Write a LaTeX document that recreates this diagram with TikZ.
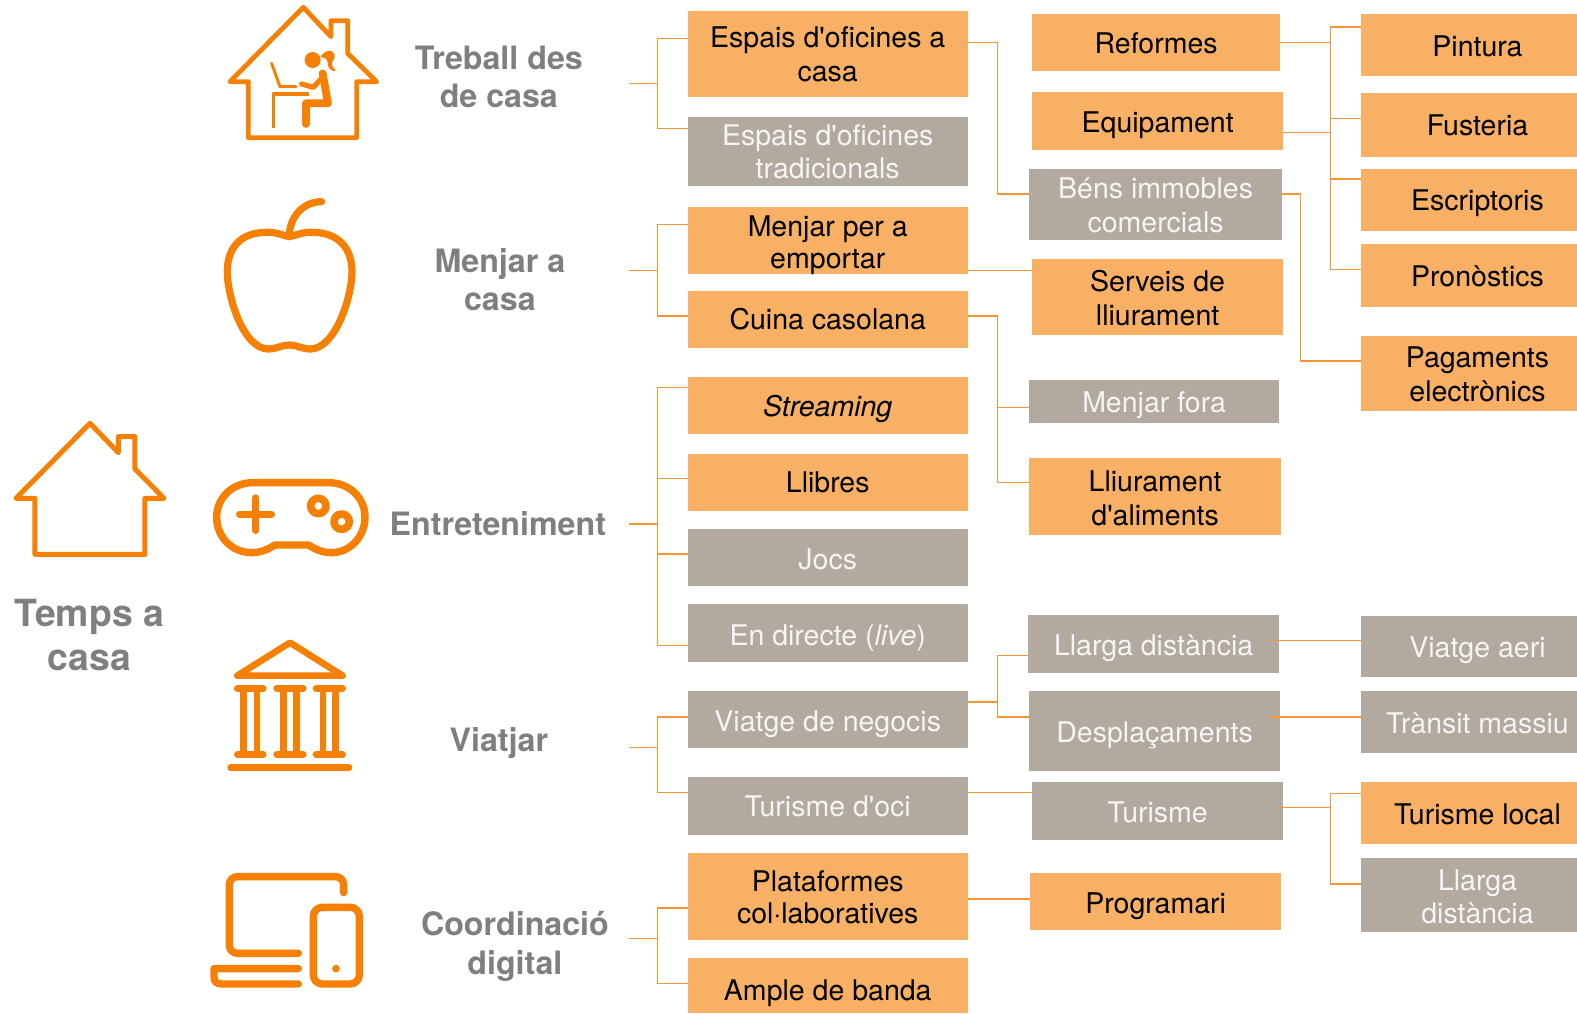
\documentclass[tikz,border=0pt]{standalone}
\usepackage{fontspec}
\setmainfont[Ligatures=TeXOff]{TeX Gyre Heros}
\definecolor{boxor}{HTML}{F7B064}
\definecolor{boxgr}{HTML}{B2A99F}
\definecolor{ico}{HTML}{F58003}
\definecolor{lnk}{HTML}{F79433}
\definecolor{lab}{HTML}{7F7F7F}
\newcommand{\bxx}[8][0.5pt]{%
  \pgfmathsetmacro{\bw}{(#6-#4)*0.5029}%
  \pgfmathsetmacro{\bh}{(#7-#5)*0.5029}%
  \pgfmathsetmacro{\bcx}{(#4+#6)/2}%
  \pgfmathsetmacro{\bcy}{(#5+#7)/2}%
  \node[#3,minimum width=\bw pt,minimum height=\bh pt] (#2) at (\bcx,\bcy) {\raisebox{\dimexpr-#1-1.65pt\relax}[\height][\depth]{\begin{tabular}{@{}c@{}}#8\end{tabular}}};}
\newcommand{\sft}{\hspace*{8.6pt}}
\tikzset{
  boxbase/.style={rectangle,inner sep=0pt,outer sep=0pt,font=\fontsize{14.25}{17}\selectfont},
  obox/.style={boxbase,fill=boxor,text=black},
  gbox/.style={boxbase,fill=boxgr,text=white!96!black},
  link/.style={draw=lnk,line width=0.7pt},
  head/.style={text=lab,align=center,inner sep=0pt,font=\bfseries\fontsize{16.1}{19.2}\selectfont},
  icon/.style={draw=ico,line join=round,line cap=round},
}
\begin{document}
\begin{tikzpicture}[x=0.5029pt,y=-0.5029pt]
\useasboundingbox (0,0) rectangle (1568,1007.3);
% icons, in the pixel grid of 3x crops
\begin{scope}[shift={(100pt,0pt)},x=0.16667pt,y=-0.16667pt]
  \draw[icon,line width=2.4pt] (90,245) -- (310,22) -- (393,110) -- (393,62) -- (443,62) -- (443,160) -- (530,245) -- (470,245) -- (470,413) -- (145,413) -- (145,245) -- cycle;
  \fill[ico] (338,180) circle (24);
  \fill[ico] (362,170) .. controls (375,150) and (395,145) .. (403,162) .. controls (408,178) and (392,185) .. (396,195) .. controls (398,205) and (405,208) .. (410,212) .. controls (395,216) and (383,205) .. (383,190) .. controls (383,175) and (375,175) .. (362,170) -- cycle;
  \draw[icon,line width=3.9pt] (368,220) -- (384,310) -- (318,310) -- (318,372);
  \draw[icon,line width=2.6pt] (305,252) -- (340,262) -- (365,235);
  \draw[icon,line width=1.5pt] (215,190) -- (240,260) -- (288,260);
  \draw[icon,line width=1.7pt,line cap=butt] (328,282) -- (220,282) -- (220,384);
\end{scope}
\begin{scope}[shift={(100pt,-90pt)},x=0.16667pt,y=-0.16667pt]
  \draw[icon,line width=3.6pt] (268,170) .. controls (245,165) and (225,155) .. (200,157)
    .. controls (120,157) and (82,205) .. (82,275)
    .. controls (82,350) and (130,507) .. (205,507)
    .. controls (230,507) and (245,495) .. (268,495)
    .. controls (291,495) and (306,507) .. (331,507)
    .. controls (406,507) and (456,350) .. (456,275)
    .. controls (456,205) and (416,157) .. (336,157)
    .. controls (311,155) and (291,165) .. (268,170) -- cycle;
  \draw[icon,line width=3.6pt] (268,170) .. controls (268,110) and (310,65) .. (365,65);
\end{scope}
\begin{scope}[shift={(0pt,-200pt)},x=0.16667pt,y=-0.16667pt]
  \draw[icon,line width=2.5pt] (48,295) -- (270,70) -- (355,158) -- (355,110) -- (405,110) -- (405,207) -- (492,295) -- (435,295) -- (435,463) -- (105,463) -- (105,295) -- cycle;
  \draw[icon,line width=3.7pt] (760,248) -- (985,248) .. controls (1050,248) and (1095,295) .. (1095,352) .. controls (1095,410) and (1050,458) .. (995,458) .. controls (965,458) and (945,447) .. (925,435) -- (825,435) .. controls (805,447) and (785,458) .. (755,458) .. controls (695,458) and (650,410) .. (650,352) .. controls (650,295) and (695,248) .. (760,248) -- cycle;
  \draw[icon,line width=3.3pt] (718,343) -- (815,343) (767,293) -- (767,392);
  \draw[icon,line width=3.8pt] (955,318) circle (23) (1025,365) circle (23);
\end{scope}
\begin{scope}[shift={(100pt,-310pt)},x=0.16667pt,y=-0.16667pt]
  \draw[icon,line width=3.3pt] (112,167) -- (270,68) -- (428,167) -- cycle;
  \draw[icon,line width=3.3pt] (112,205) -- (190,205) (230,205) -- (310,205) (348,205) -- (428,205)
    (112,403) -- (190,403) (230,403) -- (310,403) (348,403) -- (428,403)
    (131,205) -- (131,403) (171,205) -- (171,403) (250,205) -- (250,403) (290,205) -- (290,403) (369,205) -- (369,403) (407,205) -- (407,403)
    (92,443) -- (447,443);
  \draw[icon,line width=3.7pt,rounded corners=4pt] (431,818) -- (431,770) -- (88,770) -- (88,1000) -- (295,1000);
  \draw[icon,line width=3.7pt] (295,1046) -- (42,1046) -- (42,1070) .. controls (42,1085) and (50,1092) .. (65,1092) -- (295,1092);
  \draw[icon,line width=3.7pt,rounded corners=4.5pt] (340,862) rectangle (478,1092);
  \fill[ico] (408,1046) circle (11.5);
\end{scope}
% headings
\node[head] (l1) at (496,76.5) {Treball des\\de casa};
\node[head] (l2) at (497,278) {Menjar a\\casa};
\node[head] (l3) at (495,520.5) {Entreteniment};
\node[head] (l4) at (496,739) {Viatjar};
\node[head] (l5) at (512,941) {Coordinació\\digital};
\node[head,font=\bfseries\fontsize{18.7}{22}\selectfont] (l0) at (89,631) {Temps a\\casa};
% column 1
\bxx{a1}{obox}{684}{11}{962}{96}{Espais d'oficines a\\casa}
\bxx{a2}{gbox}{684}{116}{962}{185}{Espais d'oficines\\[-0.5pt]tradicionals}
\bxx[1pt]{a3}{obox}{684}{206}{962}{272}{Menjar per a\\[-1pt]emportar}
\bxx[0pt]{a4}{obox}{684}{289}{962}{346}{Cuina casolana}
\bxx{a5}{obox}{684}{375}{962}{432}{\textit{Streaming}}
\bxx[0pt]{a6}{obox}{684}{451}{962}{508}{Llibres}
\bxx[1pt]{a7}{gbox}{684}{526}{962}{583}{Jocs}
\bxx[1.3pt]{a8}{gbox}{684}{601}{962}{658}{En directe (\textit{live})}
\bxx[1pt]{a9}{gbox}{684}{687}{962}{744}{Viatge de negocis}
\bxx[0.2pt]{a10}{gbox}{684}{773}{962}{830}{Turisme d'oci}
\bxx{a11}{obox}{684}{848}{962}{935}{Plataformes\\[-1pt]col·laboratives}
\bxx[2.2pt]{a12}{obox}{684}{953}{962}{1007.3}{Ample de banda}
% column 2
\bxx{b1}{obox}{1026}{14}{1273}{71}{Reformes}
\bxx[1pt]{b2}{obox}{1026}{91}{1276}{149}{Equipament}
\bxx{b3}{gbox}{1023}{168}{1275}{239}{Béns immobles\\comercials}
\bxx[0.7pt]{b4}{obox}{1026}{258}{1276}{333}{Serveis de\\lliurament}
\bxx{b5}{gbox}{1023}{378}{1272}{421}{Menjar fora}
\bxx[1pt]{b6}{obox}{1023}{455}{1274}{532}{Lliurament\\d'aliments}
\bxx[1pt]{b7}{gbox}{1022}{611}{1272}{669}{Llarga distància}
\bxx[0.7pt]{b8}{gbox}{1023}{687}{1273}{767}{Desplaçaments}
\bxx[0.8pt]{b9}{gbox}{1026}{778}{1276}{835}{Turisme}
\bxx[1pt]{b10}{obox}{1024}{868}{1274}{925}{Programari}
% column 3
\bxx{c1}{obox}{1353}{14}{1568}{76}{\sft Pintura}
\bxx{c2}{obox}{1353}{92}{1568}{156}{\sft Fusteria}
\bxx[0.2pt]{c3}{obox}{1353}{168}{1568}{230}{\sft Escriptoris}
\bxx{c4}{obox}{1353}{243}{1568}{305}{\sft Pronòstics}
\bxx{c5}{obox}{1353}{334}{1568}{409}{\sft Pagaments\\\sft electrònics}
\bxx{c6}{gbox}{1353}{612}{1568}{673}{\sft Viatge aeri}
\bxx[0.8pt]{c7}{gbox}{1353}{687}{1568}{749}{\sft Trànsit massiu}
\bxx[0.8pt]{c8}{obox}{1353}{778}{1568}{839}{\sft Turisme local}
\bxx[0.8pt]{c9}{gbox}{1353}{853}{1568}{927}{\sft Llarga\\[-0.5pt]\sft distància}
% bracket points
\coordinate (s1) at (625,83);  \coordinate (h1) at (654,83);
\coordinate (s2) at (625,269); \coordinate (h2) at (654,269);
\coordinate (s3) at (625,521); \coordinate (h3) at (654,521);
\coordinate (s4) at (625,743); \coordinate (h4) at (654,743);
\coordinate (s5) at (625,933); \coordinate (h5) at (654,933);
\coordinate (j1) at (992,42);
\coordinate (j2) at (992,314);
\coordinate (j3) at (992,698);
\coordinate (j4) at (1323,42);
\coordinate (j5) at (1293,193);
\coordinate (j6) at (1323,132);
\coordinate (j7) at (1323,803);
\coordinate (t1) at (1263,637);
\coordinate (t2) at (1263,713);
\coordinate (t3) at (1270,803);
% brackets from headings to column 1
\draw[link] (s1) -- (h1);
\draw[link] (a1.west|-0,38) -| (h1);
\draw[link] (a2.west|-0,128) -| (h1);
\draw[link] (s2) -- (h2);
\draw[link] (a3.west|-0,223) -| (h2);
\draw[link] (a4.west|-0,314) -| (h2);
\draw[link] (s3) -- (h3);
\draw[link] (a5.west|-0,385) -| (h3);
\draw[link] (a6.west|-0,476) -| (h3);
\draw[link] (a7.west|-0,551) -| (h3);
\draw[link] (a8.west|-0,642) -| (h3);
\draw[link] (s4) -- (h4);
\draw[link] (a9.west|-0,713) -| (h4);
\draw[link] (a10.west|-0,788) -| (h4);
\draw[link] (s5) -- (h5);
\draw[link] (a11.west|-0,903) -| (h5);
\draw[link] (a12.west|-0,978) -| (h5);
% column 1 to column 2
\draw[link] (a1.east|-j1) -- (j1) |- (b3.west|-0,193);
\draw[link] (a3.east|-0,269) -- (b4.west|-0,269);
\draw[link] (a4.east|-j2) -- (j2) |- (b5.west|-0,405);
\draw[link] (j2) |- (b6.west|-0,480);
\draw[link] (a9.east|-j3) -- (j3) |- (b7.west|-0,652);
\draw[link] (j3) |- (b8.west|-0,713);
\draw[link] (a10.east|-0,788) -- (b9.west|-0,788);
\draw[link] (a11.east|-0,894) -- (b10.west|-0,894);
% column 2 to column 3
\draw[link] (b1.east|-j4) -- (j4);
\draw[link] (c1.west|-0,27) -| (j4);
\draw[link] (c2.west|-0,118) -| (j4);
\draw[link] (b2.east|-j6) -- (j6);
\draw[link] (j4) -- (j6);
\draw[link] (c3.west|-0,178) -| (j6);
\draw[link] (c4.west|-0,268) -| (j6);
\draw[link] (b3.east|-j5) -- (j5) |- (c5.west|-0,359);
\draw[link] (t1) -- (c6.west|-t1);
\draw[link] (t2) -- (c7.west|-t2);
\draw[link] (t3) -- (j7);
\draw[link] (c8.west|-0,789) -| (j7);
\draw[link] (c9.west|-0,879) -| (j7);
\end{tikzpicture}
\end{document}
